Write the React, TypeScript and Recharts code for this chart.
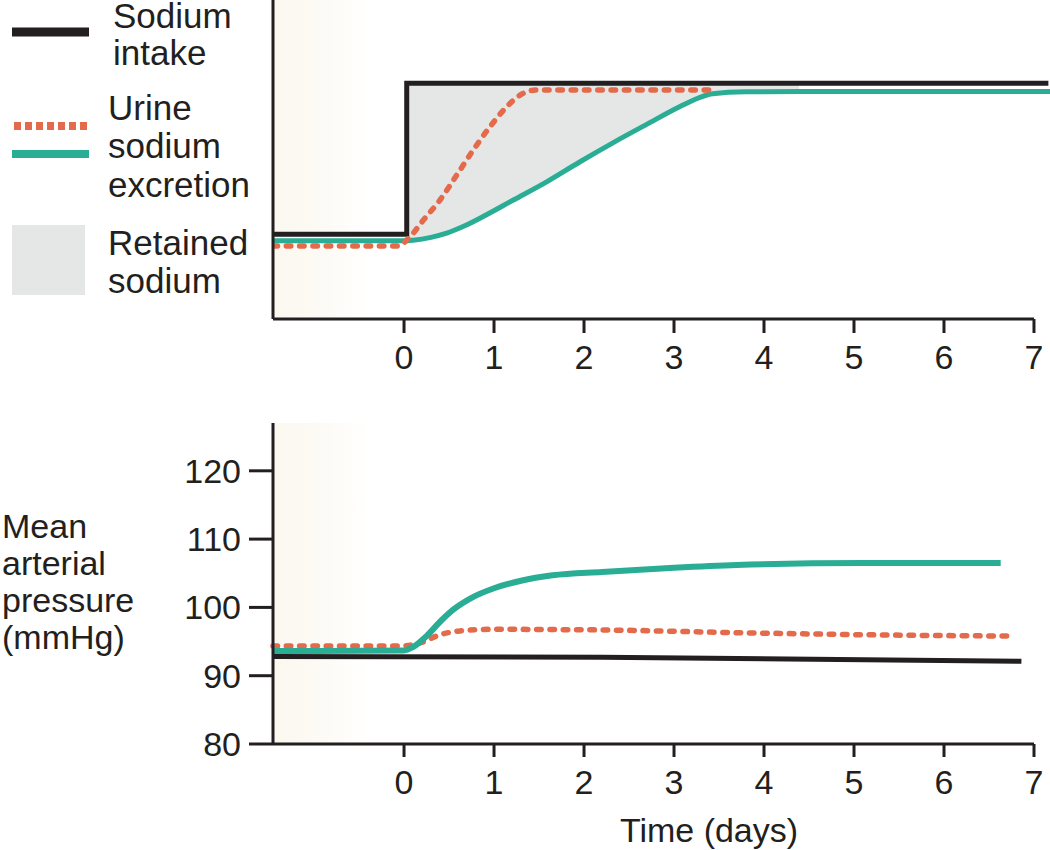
import React from 'react'
import {
  ComposedChart,
  Line,
  Area,
  XAxis,
  YAxis,
  ReferenceArea,
  ReferenceLine,
  Legend,
} from 'recharts'

const ink = '#231f20'
const teal = '#2aad95'
const orange = '#e36a4a'
const retainedGray = '#e5e6e6'
const cream = '#fbf7ee'
const font = '"Liberation Sans", Arial, Helvetica, sans-serif'

const dayTicks = [0, 1, 2, 3, 4, 5, 6, 7]
const pressureTicks = [80, 90, 100, 110, 120]
const xMin = -1.456
const xMax = 7.178

// top panel: sodium, relative units (the original has no scale)
const intakeTop = [
  { t: xMin, v: 26.6 },
  { t: 0.03, v: 26.6 },
  { t: 0.03, v: 73.9 },
  { t: 7.16, v: 73.9 },
]
const intakeHigh = 73.9

const urineFastTop = [
  { t: xMin, v: 22.9 },
  { t: -0.07, v: 22.9 },
  { t: 0.067, v: 25.8 },
  { t: 0.215, v: 31 },
  { t: 0.4, v: 37.3 },
  { t: 0.585, v: 45.1 },
  { t: 0.77, v: 53 },
  { t: 0.956, v: 60.3 },
  { t: 1.14, v: 66.5 },
  { t: 1.29, v: 70.2 },
  { t: 1.47, v: 71.8 },
  { t: 3.43, v: 71.8 },
]

const urineSlowTop = [
  { t: xMin, v: 24.5 },
  { t: 0, v: 24.5 },
  { t: 0.1, v: 24.7 },
  { t: 0.3, v: 25.6 },
  { t: 0.474, v: 26.9 },
  { t: 0.65, v: 28.9 },
  { t: 0.844, v: 31.6 },
  { t: 1.215, v: 37.3 },
  { t: 1.585, v: 43.0 },
  { t: 1.956, v: 49.3 },
  { t: 2.326, v: 55.3 },
  { t: 2.696, v: 61.0 },
  { t: 3.067, v: 66.6 },
  { t: 3.289, v: 69.5 },
  { t: 3.43, v: 70.6 },
  { t: 3.8, v: 71.2 },
  { t: 4.39, v: 71.3 },
  { t: xMax, v: 71.3 },
]

// bottom panel: mean arterial pressure, mmHg
const pressureIntake = [
  { t: xMin, v: 92.8 },
  { t: 2.2, v: 92.7 },
  { t: 6.86, v: 92.1 },
]

const pressureFast = [
  { t: xMin, v: 94.35 },
  { t: -0.05, v: 94.35 },
  { t: 0.18, v: 94.8 },
  { t: 0.4, v: 96.0 },
  { t: 0.62, v: 96.55 },
  { t: 1.0, v: 96.8 },
  { t: 1.7, v: 96.75 },
  { t: 2.2, v: 96.7 },
  { t: 3.7, v: 96.3 },
  { t: 5.1, v: 96.0 },
  { t: 6.72, v: 95.8 },
]

const pressureSlow = [
  { t: xMin, v: 93.6 },
  { t: 0, v: 93.7 },
  { t: 0.1, v: 94.2 },
  { t: 0.25, v: 95.8 },
  { t: 0.4, v: 97.9 },
  { t: 0.55, v: 99.7 },
  { t: 0.75, v: 101.4 },
  { t: 1.0, v: 102.8 },
  { t: 1.3, v: 103.9 },
  { t: 1.65, v: 104.7 },
  { t: 2.2, v: 105.2 },
  { t: 3.0, v: 105.8 },
  { t: 3.7, v: 106.2 },
  { t: 5.1, v: 106.5 },
  { t: 6.63, v: 106.5 },
]

// gray band between intake and slow excretion
const retained = [
  { t: 0.03, range: [24.6, intakeHigh] },
  ...urineSlowTop
    .filter((p) => p.t >= 0.1 && p.t <= 4.39)
    .map((p) => ({ t: p.t, range: [p.v, intakeHigh] })),
]

const axisStroke = { stroke: ink, strokeWidth: 3 }
const tickText = { fill: ink, fontSize: 34, fontFamily: font }

function CreamGradient({ id }: { id: string }) {
  return (
    <defs>
      <linearGradient id={id} x1="0" y1="0" x2="1" y2="0">
        <stop offset="0%" stopColor={cream} stopOpacity={0.9} />
        <stop offset="50%" stopColor={cream} stopOpacity={0.6} />
        <stop offset="100%" stopColor={cream} stopOpacity={0} />
      </linearGradient>
    </defs>
  )
}

function LegendBox() {
  const txt = { fontSize: 35, fill: ink, fontFamily: font }
  return (
    <svg width={270} height={310} style={{ display: 'block', overflow: 'visible' }}>
      <line x1={12} x2={89} y1={32} y2={32} stroke={ink} strokeWidth={9} />
      <text x={113} y={28} {...txt}>Sodium</text>
      <text x={113} y={65} {...txt}>intake</text>

      <line x1={14} x2={88} y1={126} y2={126} stroke={orange} strokeWidth={8}
        strokeDasharray="7 4" />
      <line x1={12} x2={89} y1={154} y2={154} stroke={teal} strokeWidth={8} />
      <text x={108} y={120} {...txt}>Urine</text>
      <text x={108} y={158} {...txt}>sodium</text>
      <text x={108} y={197} {...txt}>excretion</text>

      <rect x={12} y={225} width={73} height={70} fill={retainedGray} />
      <text x={108} y={255} {...txt}>Retained</text>
      <text x={108} y={293} {...txt}>sodium</text>
    </svg>
  )
}

function PressureLabel(props: any) {
  const top = props?.viewBox?.y ?? 23
  const lines = ['Mean', 'arterial', 'pressure', '(mmHg)']
  return (
    <text x={2} y={top + 115} fontSize={34} fill={ink} fontFamily={font}>
      {lines.map((l, i) => (
        <tspan key={l} x={2} dy={i === 0 ? 0 : 37}>{l}</tspan>
      ))}
    </text>
  )
}

function TimeLabel(props: any) {
  const y = props?.viewBox?.y ?? 344
  return (
    <text x={709} y={y + 98} fontSize={34} fill={ink} fontFamily={font} textAnchor="middle">
      Time (days)
    </text>
  )
}

function SodiumPanel() {
  return (
    <ComposedChart width={1050} height={395} margin={{ top: 0, right: 0, bottom: 0, left: 0 }}>
      <CreamGradient id="creamTop" />
      <XAxis
        type="number"
        dataKey="t"
        domain={[xMin, xMax]}
        ticks={dayTicks}
        allowDataOverflow
        height={76}
        axisLine={false}
        tickLine={axisStroke}
        tickSize={14}
        tickMargin={12}
        tick={tickText}
      />
      <YAxis
        type="number"
        domain={[0, 100]}
        width={273}
        tick={false}
        tickLine={false}
        axisLine={axisStroke}
      />
      <ReferenceArea x1={xMin} x2={-0.4} y1={0} y2={100} fill="url(#creamTop)" fillOpacity={1} stroke="none" />
      <Area
        data={retained}
        dataKey="range"
        type="monotone"
        fill={retainedGray}
        fillOpacity={1}
        stroke="none"
        isAnimationActive={false}
      />
      <Line data={urineSlowTop} dataKey="v" type="monotone" stroke={teal} strokeWidth={5}
        dot={false} isAnimationActive={false} />
      <Line data={intakeTop} dataKey="v" type="linear" stroke={ink} strokeWidth={5}
        dot={false} isAnimationActive={false} />
      <Line data={urineFastTop} dataKey="v" type="monotone" stroke={orange} strokeWidth={5.5}
        strokeDasharray="4.5 8.8" strokeLinecap="round" dot={false} isAnimationActive={false} />
      <ReferenceLine segment={[{ x: xMin, y: 0 }, { x: 7, y: 0 }]} stroke={ink} strokeWidth={3} />
      <Legend
        layout="horizontal"
        verticalAlign="middle"
        align="center"
        wrapperStyle={{ position: 'absolute', left: 0, top: 0, width: 270, height: 310 }}
        content={() => <LegendBox />}
      />
    </ComposedChart>
  )
}

function PressurePanel() {
  return (
    <ComposedChart width={1050} height={450} margin={{ top: 23, right: 16, bottom: 46, left: 0 }}>
      <CreamGradient id="creamBottom" />
      <XAxis
        type="number"
        dataKey="t"
        domain={[xMin, 7]}
        ticks={dayTicks}
        height={60}
        axisLine={axisStroke}
        tickLine={axisStroke}
        tickSize={13}
        tickMargin={13}
        tick={tickText}
        label={(p: any) => <TimeLabel {...p} />}
      />
      <YAxis
        type="number"
        domain={[80, 127]}
        ticks={pressureTicks}
        width={273}
        axisLine={axisStroke}
        tickLine={axisStroke}
        tickSize={24}
        tickMargin={8}
        tick={tickText}
        label={(p: any) => <PressureLabel {...p} />}
      />
      <ReferenceArea x1={xMin} x2={-0.4} y1={80} y2={127} fill="url(#creamBottom)" fillOpacity={1} stroke="none" />
      <Line data={pressureIntake} dataKey="v" type="linear" stroke={ink} strokeWidth={5}
        dot={false} isAnimationActive={false} />
      <Line data={pressureFast} dataKey="v" type="monotone" stroke={orange} strokeWidth={5.5}
        strokeDasharray="4.5 8.8" strokeLinecap="round" dot={false} isAnimationActive={false} />
      <Line data={pressureSlow} dataKey="v" type="monotone" stroke={teal} strokeWidth={6}
        dot={false} isAnimationActive={false} />
    </ComposedChart>
  )
}

export default function App() {
  return (
    <div
      style={{
        position: 'absolute',
        left: 0,
        top: 0,
        width: 1050,
        height: 850,
        background: '#fff',
        fontFamily: font,
        overflow: 'hidden',
      }}
    >
      <div style={{ position: 'absolute', left: 0, top: 0 }}>
        <SodiumPanel />
      </div>
      <div style={{ position: 'absolute', left: 0, top: 400 }}>
        <PressurePanel />
      </div>
    </div>
  )
}
